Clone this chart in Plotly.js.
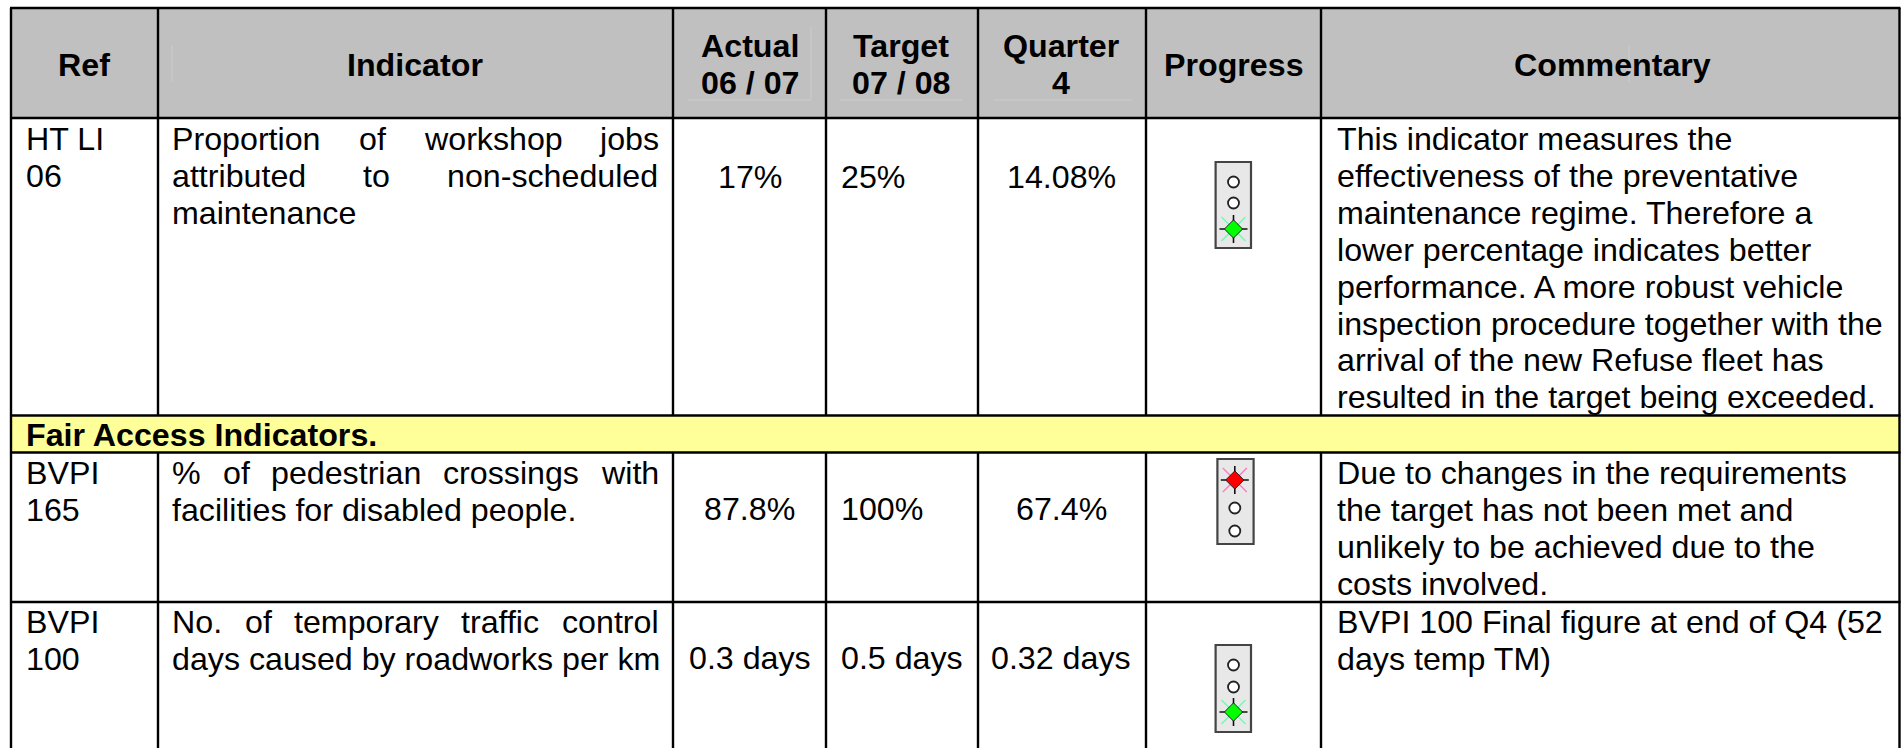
<!DOCTYPE html>
<html><head><meta charset="utf-8">
<script src="https://cdn.plot.ly/plotly-3.0.1.min.js"></script>
<style>html,body{margin:0;padding:0;background:#fff;overflow:hidden}</style>
</head><body><div id="chart" style="width:1903px;height:748px"></div>
<script>
// ---------- table content ----------
const headers = [["Ref"],["Indicator"],["Actual","06 / 07"],["Target","07 / 08"],["Quarter","4"],["Progress"],["Commentary"]];
const refs = [["HT LI","06"],["BVPI","165"],["BVPI","100"]];
const indicators = [
  ["Proportion of workshop jobs","attributed to non-scheduled","maintenance"],
  ["% of pedestrian crossings with","facilities for disabled people."],
  ["No. of temporary traffic control","days caused by roadworks per km"]];
const justifiedLines = [[true,true,false],[true,false],[true,false]];
const actual = ["17%","87.8%","0.3 days"];
const target = ["25%","100%","0.5 days"];
const quarter = ["14.08%","67.4%","0.32 days"];
const progress = ["green","red","green"];
const commentary = [
  ["This indicator measures the","effectiveness of the preventative","maintenance regime. Therefore a","lower percentage indicates better","performance. A more robust vehicle","inspection procedure together with the","arrival of the new Refuse fleet has","resulted in the target being exceeded."],
  ["Due to changes in the requirements","the target has not been met and","unlikely to be achieved due to the","costs involved."],
  ["BVPI 100 Final figure at end of Q4 (52","days temp TM)"]];
const sectionTitle = "Fair Access Indicators.";

// ---------- layout constants ----------
const colX = [11,158,673,826,978,1146,1321,1899.5];
const rowY = {top:8, head:118, r1:415.5, yellow:452.5, r2:602, bottom:748};
const FS = 32.2, FONT = "Liberation Sans";
const firstLine = [139,473,622];
const pitch = 36.9;
const midY = [176.7,509,658];
const light = [
  {x0:1215.6,x1:1251,y0:162,y1:248,cx:1233.5,ys:[182,203,229]},
  {x0:1217.4,x1:1253.6,y0:459,y1:544,cx:1234.8,ys:[480,508,531]},
  {x0:1215.6,x1:1251,y0:645,y1:732,cx:1233.5,ys:[665,687,712]}];

const ann = [];
function T(text,x,y,anchor,bold){
  ann.push({text:bold?"<b>"+text+"</b>":text,x,y,xref:"x",yref:"y",xanchor:anchor,yanchor:"middle",
    showarrow:false,borderpad:0,borderwidth:0,font:{family:FONT,size:FS,color:"#000"}});
}
const ctx = document.createElement("canvas").getContext("2d");
ctx.font = FS+"px '"+FONT+"'";
function justify(line,x0,x1,y){
  const w = line.split(" ");
  const total = w.reduce((s,v)=>s+ctx.measureText(v).width,0);
  const gap = (x1-x0-total)/(w.length-1);
  let x = x0;
  w.forEach(v=>{T(v,x,y,"left");x+=ctx.measureText(v).width+gap;});
}
// headers
const headCX = [84,415,749.5,901,1061,1233.5,1612];
headers.forEach((h,i)=>{
  if(h.length===1) T(h[0],headCX[i],65,"center",true);
  else {T(h[0],headCX[i],45.5,"center",true);T(h[1],headCX[i],83,"center",true);}
});
T(sectionTitle,26,435,"left",true);
refs.forEach((r,i)=>r.forEach((l,j)=>T(l,26,firstLine[i]+j*pitch,"left")));
indicators.forEach((r,i)=>r.forEach((l,j)=>{
  const y = firstLine[i]+j*pitch;
  if(justifiedLines[i][j]) justify(l,172,658.5,y); else T(l,172,y,"left");
}));
actual.forEach((v,i)=>T(v,749.5,midY[i],"center"));
target.forEach((v,i)=>T(v,841,midY[i],"left"));
quarter.forEach((v,i)=>T(v,1061,midY[i],"center"));
commentary.forEach((r,i)=>r.forEach((l,j)=>T(l,1336.5,firstLine[i]+j*pitch,"left")));

// ---------- shapes ----------
const sh = [];
function R(x0,y0,x1,y1,fill,lw,lc){sh.push({type:"rect",xref:"x",yref:"y",x0,y0,x1,y1,fillcolor:fill,line:{width:lw||0,color:lc||"#000"},layer:"below"});}
function L(x0,y0,x1,y1,lw,c){sh.push({type:"line",xref:"x",yref:"y",x0,y0,x1,y1,line:{width:lw,color:c||"#000"},layer:"below"});}
R(colX[0],rowY.top,colX[7],rowY.head,"#c0c0c0");
R(colX[0],rowY.r1,colX[7],rowY.yellow,"#ffff99");
// faint scan marks in the header
[[688,100,811,100],[811,27,811,100],[840,100,963,100],[993,100,1132,100],[1629,45,1629,82],[172,45,172,82]].forEach(a=>L(a[0],a[1],a[2],a[3],1,"#cccccc"));
// horizontal rules
[rowY.top,rowY.head,rowY.r1,rowY.yellow,rowY.r2].forEach(y=>L(colX[0]-1,y,colX[7]+1,y,2.4));
// vertical rules
[colX[0],colX[7]].forEach(x=>L(x,rowY.top,x,rowY.bottom,2.4));
colX.slice(1,7).forEach(x=>{
  L(x,rowY.top,x,rowY.r1,2.4);
  L(x,rowY.yellow,x,rowY.bottom,2.4);
});
light.forEach(b=>R(b.x0,b.y0,b.x1,b.y1,"#e8e8e8",2.2,"#444444"));

// ---------- lamps ----------
const offX=[],offY=[],onX={green:[],red:[]},onY={green:[],red:[]};
progress.forEach((p,i)=>{
  const litIndex = p==="red"?0:2;
  light[i].ys.forEach((y,k)=>{
    if(k===litIndex){onX[p].push(light[i].cx);onY[p].push(y);}
    else {offX.push(light[i].cx);offY.push(y);}
  });
});
const axisRefs = {xaxis:"x",yaxis:"y",type:"scatter",mode:"markers",hoverinfo:"skip",showlegend:false};
const traces = [
  Object.assign({},axisRefs,{x:offX,y:offY,marker:{symbol:"circle",size:11,color:"#fff",line:{width:1.8,color:"#222"}}})
];
[["green","#00ff00","#66ffaa"],["red","#ff0000","#ff77bb"]].forEach(c=>{
  traces.push(Object.assign({},axisRefs,{x:onX[c[0]],y:onY[c[0]],marker:{symbol:"x-thin-open",size:24,color:c[2],line:{width:1.2}}}));
  traces.push(Object.assign({},axisRefs,{x:onX[c[0]],y:onY[c[0]],marker:{symbol:"cross-thin-open",size:20,color:"#111",line:{width:1.6}}}));
  traces.push(Object.assign({},axisRefs,{x:onX[c[0]],y:onY[c[0]],marker:{symbol:"diamond",size:14,color:c[1],line:{width:1,color:"#222"}}}));
});

const hidden = {visible:false,fixedrange:true,showgrid:false,zeroline:false};
Plotly.newPlot("chart",traces,{
  width:1903,height:748,margin:{l:0,r:0,t:0,b:0},paper_bgcolor:"#fff",plot_bgcolor:"#fff",
  xaxis:Object.assign({range:[0,1903]},hidden),
  yaxis:Object.assign({range:[748,0]},hidden),
  shapes:sh,annotations:ann,showlegend:false
},{displayModeBar:false,staticPlot:true});
</script></body></html>
